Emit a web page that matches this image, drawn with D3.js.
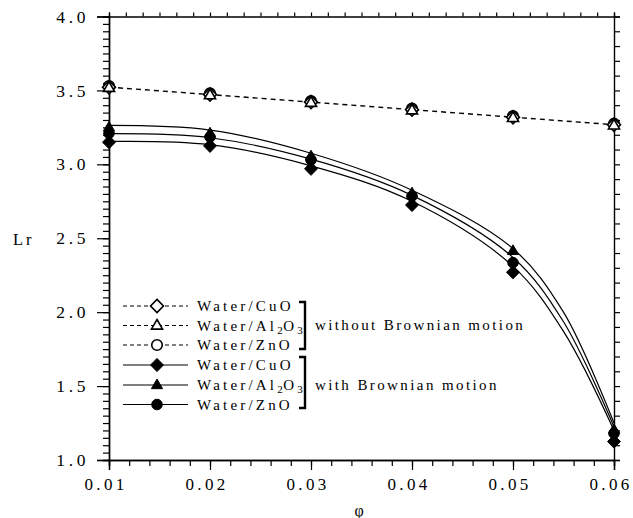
<!DOCTYPE html>
<html>
<head>
<meta charset="utf-8">
<script src="https://cdn.jsdelivr.net/npm/d3@7/dist/d3.min.js"></script>
<style>
  html, body { margin: 0; padding: 0; background: #fff; }
  svg { display: block; }
  text { font-family: "Liberation Serif", "Times New Roman", Times, serif; fill: #000; }
</style>
</head>
<body>
<svg id="chart" width="633" height="518"></svg>
<script>
// Volume fraction of nanoparticles
const phi = [0.01, 0.02, 0.03, 0.04, 0.05, 0.06];

// Lr without Brownian motion (open markers, dashed line)
const noBrownCuO   = [3.522, 3.472, 3.421, 3.370, 3.319, 3.268];
const noBrownAl2O3 = [3.518, 3.468, 3.417, 3.366, 3.315, 3.264];
const noBrownZnO   = [3.530, 3.480, 3.428, 3.377, 3.326, 3.275];

// Lr with Brownian motion (filled markers)
const brownCuO   = [3.150, 3.125, 2.970, 2.725, 2.270, 1.125];
const brownAl2O3 = [3.250, 3.210, 3.055, 2.805, 2.415, 1.205];
const brownZnO   = [3.210, 3.185, 3.030, 2.785, 2.335, 1.180];

// Smooth fitted curves for the Brownian-motion cases
const fitPhi   = [0.01, 0.02, 0.03, 0.04, 0.05, 0.055, 0.06];
const fitCuO   = [3.155, 3.133, 2.990, 2.750, 2.310, 1.870, 1.200];
const fitAl2O3 = [3.263, 3.232, 3.075, 2.825, 2.430, 2.000, 1.250];
const fitZnO   = [3.207, 3.180, 3.035, 2.790, 2.370, 1.935, 1.225];

const xTicks = [0.01, 0.02, 0.03, 0.04, 0.05, 0.06];
const yTicks = [1.0, 1.5, 2.0, 2.5, 3.0, 3.5, 4.0];

const svg = d3.select("#chart");
const x = d3.scaleLinear().domain([0.01, 0.06]).range([109, 614]);
const y = d3.scaleLinear().domain([1, 4]).range([460, 16.5]);

// marker shapes
const diamond = {
  draw(ctx, size) {
    const h = Math.sqrt(size) * 0.8, w = h * 0.98;
    ctx.moveTo(0, -h); ctx.lineTo(w, 0); ctx.lineTo(0, h); ctx.lineTo(-w, 0); ctx.closePath();
  }
};
const triangle = {
  draw(ctx, size) {
    const s = Math.sqrt(size) * 1.35, hh = s * 0.866;
    ctx.moveTo(0, -hh * 0.62); ctx.lineTo(s / 2, hh * 0.38); ctx.lineTo(-s / 2, hh * 0.38); ctx.closePath();
  }
};
const circle = {
  draw(ctx, size) {
    const r = Math.sqrt(size) * 0.64;
    ctx.moveTo(r, 0); ctx.arc(0, 0, r, 0, 2 * Math.PI); ctx.closePath();
  }
};
const SZ = 68;

// ---- axes ----
const axisStyle = g => {
  g.select(".domain").attr("stroke", "#000").attr("stroke-width", 1.4);
  g.selectAll(".tick line").attr("stroke", "#000").attr("stroke-width", 1.2);
};

// bottom: minor ticks
svg.append("g").attr("transform", `translate(0,${y(1)})`)
  .call(d3.axisBottom(x).tickValues(d3.range(0, 26).map(i => 0.01 + i * 0.002)).tickSize(6).tickFormat(""))
  .call(axisStyle);
// bottom: major ticks with labels
const gx = svg.append("g").attr("transform", `translate(0,${y(1)})`)
  .call(d3.axisBottom(x).tickValues(xTicks).tickSize(10).tickPadding(8).tickFormat(d3.format(".2f")))
  .call(axisStyle);
gx.selectAll(".tick text").attr("font-size", 17).attr("letter-spacing", "3.3px")
  .attr("font-family", "Liberation Serif, Times New Roman, serif").attr("dx", "-3.5px");

// left: minor ticks
svg.append("g").attr("transform", `translate(${x(0.01)},0)`)
  .call(d3.axisLeft(y).tickValues(d3.range(0, 61).map(i => 1 + i * 0.05)).tickSize(6).tickFormat(""))
  .call(axisStyle);
const gy = svg.append("g").attr("transform", `translate(${x(0.01)},0)`)
  .call(d3.axisLeft(y).tickValues(yTicks).tickSize(12).tickPadding(8).tickFormat(d3.format(".1f")))
  .call(axisStyle);
gy.selectAll(".tick text").attr("font-size", 17.5).attr("letter-spacing", "3.6px")
  .attr("font-family", "Liberation Serif, Times New Roman, serif");

// top and right frame with small ticks
svg.append("g").attr("transform", `translate(0,${y(4)})`)
  .call(d3.axisTop(x).tickValues(d3.range(0, 31).map(i => 0.01 + i * 0.05 / 30)).tickSize(4).tickFormat(""))
  .call(axisStyle);
svg.append("g").attr("transform", `translate(${x(0.06)},0)`)
  .call(d3.axisRight(y).tickValues(d3.range(0, 31).map(i => 1 + i * 0.1)).tickSize(6).tickFormat(""))
  .call(axisStyle);

// axis titles
svg.append("text").attr("x", 13).attr("y", 245).attr("font-size", 16.5).attr("letter-spacing", "3px").text("Lr");
svg.append("text").attr("x", 359).attr("y", 516).attr("text-anchor", "middle").attr("font-size", 16).text("φ");

// ---- lines ----
svg.append("path")
  .attr("d", d3.line().x((d, i) => x(phi[i])).y(d => y(d))(noBrownCuO))
  .attr("fill", "none").attr("stroke", "#000").attr("stroke-width", 1.4).attr("stroke-dasharray", "5,4");

const fitLine = d3.line().x((d, i) => x(fitPhi[i])).y(d => y(d)).curve(d3.curveCatmullRom.alpha(0.5));
[fitCuO, fitZnO, fitAl2O3].forEach(f => {
  svg.append("path").attr("d", fitLine(f))
    .attr("fill", "none").attr("stroke", "#000").attr("stroke-width", 1.2);
});

// ---- markers ----
const drawMarkers = (vals, type, filled) => {
  svg.append("g").selectAll("path").data(vals).join("path")
    .attr("transform", (d, i) => `translate(${x(phi[i])},${y(d)})`)
    .attr("d", d3.symbol().type(type).size(SZ))
    .attr("fill", filled ? "#000" : "#fff")
    .attr("stroke", "#000").attr("stroke-width", filled ? 1 : 1.6);
};
drawMarkers(noBrownZnO, circle, false);
drawMarkers(noBrownCuO, diamond, false);
drawMarkers(noBrownAl2O3, triangle, false);
drawMarkers(brownCuO, diamond, true);
drawMarkers(brownZnO, circle, true);
drawMarkers(brownAl2O3, triangle, true);

// ---- legend ----
const legendRows = [
  { name: ["Water/CuO"], type: diamond, filled: false },
  { name: ["Water/Al", "2", "O", "3"], type: triangle, filled: false },
  { name: ["Water/ZnO"], type: circle, filled: false },
  { name: ["Water/CuO"], type: diamond, filled: true },
  { name: ["Water/Al", "2", "O", "3"], type: triangle, filled: true },
  { name: ["Water/ZnO"], type: circle, filled: true }
];
const rowY = [306, 325.5, 345, 365, 385, 404.5];
const lg = svg.append("g");
legendRows.forEach((r, i) => {
  const yy = rowY[i];
  lg.append("line").attr("x1", 123).attr("x2", 188).attr("y1", yy).attr("y2", yy)
    .attr("stroke", "#000").attr("stroke-width", 1.2)
    .attr("stroke-dasharray", r.filled ? null : "4,3");
  lg.append("path").attr("transform", `translate(157,${yy})`)
    .attr("d", d3.symbol().type(r.type).size(SZ))
    .attr("fill", r.filled ? "#000" : "#fff").attr("stroke", "#000").attr("stroke-width", r.filled ? 1 : 1.6);
  const t = lg.append("text").attr("x", 197).attr("y", yy + 5).attr("font-size", 15);
  r.name.forEach((s, k) => {
    const sub = k % 2 === 1;
    t.append("tspan").text(s)
      .attr("font-size", sub ? 11 : 15)
      .attr("letter-spacing", sub ? "0.5px" : "3.2px")
      .attr("dy", k === 0 ? 0 : (sub ? 3 : -3));
  });
});
// group brackets
const bracket = (y1, y2) => {
  lg.append("path").attr("d", `M299,${y1}H305V${y2}H299`)
    .attr("fill", "none").attr("stroke", "#000").attr("stroke-width", 2.4);
};
bracket(302, 349);
bracket(357, 408);
lg.append("text").attr("x", 315).attr("y", 330).attr("font-size", 15).attr("letter-spacing", "2.4px").text("without Brownian motion");
lg.append("text").attr("x", 315).attr("y", 390).attr("font-size", 15).attr("letter-spacing", "2.4px").text("with Brownian motion");
</script>
</body>
</html>
